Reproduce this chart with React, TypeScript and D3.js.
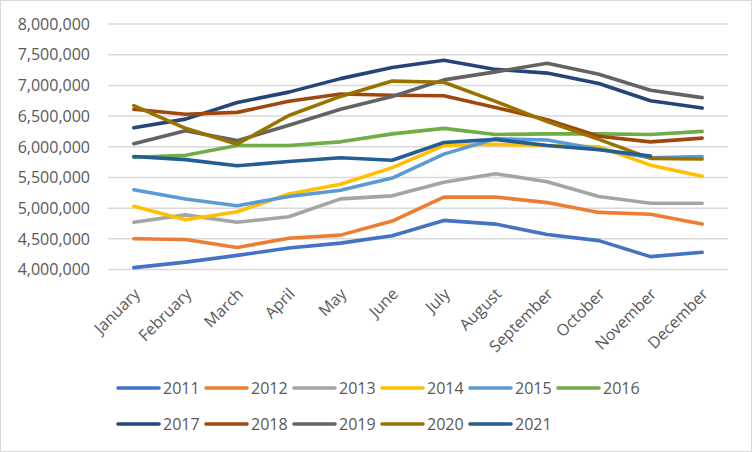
import React from "react";
import * as d3 from "d3";

const months = ["January","February","March","April","May","June","July","August","September","October","November","December"];
const yTicks = [4000000,4500000,5000000,5500000,6000000,6500000,7000000,7500000,8000000];
const years = ["2011","2012","2013","2014","2015","2016","2017","2018","2019","2020","2021"];
const colors = ["#4472C4","#ED7D31","#A5A5A5","#FFC000","#5B9BD5","#70AD47","#264478","#9E480E","#636363","#997300","#255E91"];

const s2011 = [4030000,4120000,4230000,4350000,4430000,4550000,4800000,4740000,4570000,4470000,4210000,4280000];
const s2012 = [4500000,4490000,4360000,4510000,4560000,4790000,5180000,5180000,5090000,4930000,4900000,4740000];
const s2013 = [4770000,4890000,4770000,4860000,5150000,5200000,5420000,5560000,5430000,5190000,5080000,5080000];
const s2014 = [5030000,4810000,4940000,5230000,5390000,5660000,6020000,6040000,6020000,6000000,5700000,5520000];
const s2015 = [5300000,5150000,5040000,5190000,5290000,5490000,5880000,6130000,6110000,5960000,5820000,5840000];
const s2016 = [5830000,5860000,6020000,6020000,6080000,6210000,6300000,6200000,6210000,6210000,6200000,6250000];
const s2017 = [6310000,6450000,6720000,6890000,7110000,7290000,7410000,7260000,7200000,7030000,6750000,6630000];
const s2018 = [6610000,6530000,6560000,6740000,6860000,6840000,6830000,6640000,6440000,6170000,6080000,6140000];
const s2019 = [6050000,6260000,6100000,6350000,6610000,6820000,7090000,7220000,7360000,7180000,6920000,6800000];
const s2020 = [6670000,6300000,6040000,6510000,6820000,7070000,7050000,6740000,6410000,6120000,5810000,5800000];
const s2021 = [5840000,5790000,5690000,5760000,5820000,5780000,6070000,6120000,6020000,5950000,5850000];

const seriesValues = [s2011,s2012,s2013,s2014,s2015,s2016,s2017,s2018,s2019,s2020,s2021];

const W = 752, H = 452;
const FONT = "'Open Sans', sans-serif";
const TXT = "#595959";

export default function App() {
  const x = d3.scalePoint<string>().domain(months).range([108, 728]).padding(0.5);
  const y = d3.scaleLinear().domain([4000000, 8000000]).range([269.5, 24]);
  const fmt = d3.format(",");
  const line = d3.line<number>()
    .x((_, i) => x(months[i]) as number)
    .y((d) => y(d));

  return (
    <svg width={W} height={H} style={{ position: "absolute", left: 0, top: 0, background: "#fff" }}>
      <rect x={0.5} y={0.5} width={W - 1} height={H - 1} fill="#fff" stroke="#d9d9d9" strokeWidth={1} />
      {yTicks.map((t) => (
        <g key={t}>
          <line x1={108} x2={728} y1={y(t)} y2={y(t)} stroke="#d9d9d9" strokeWidth={1.5} />
          <text x={90} y={y(t)} dy="0.36em" textAnchor="end" fontFamily={FONT} fontSize={16} fill={TXT}>
            {fmt(t)}
          </text>
        </g>
      ))}
      {months.map((m) => {
        const px = (x(m) as number) + 7;
        const py = 295;
        return (
          <text key={m} x={px} y={py} transform={`rotate(-45 ${px} ${py})`} textAnchor="end"
            fontFamily={FONT} fontSize={16} fill={TXT}>
            {m}
          </text>
        );
      })}
      {seriesValues.map((vals, i) => (
        <path key={years[i]} d={line(vals) || ""} fill="none" stroke={colors[i]} strokeWidth={3.6}
          strokeLinecap="round" strokeLinejoin="round" />
      ))}
      {years.map((yr, i) => {
        const col = i % 6;
        const row = Math.floor(i / 6);
        const lx = 116 + col * 88;
        const ly = row === 0 ? 388 : 424;
        return (
          <g key={yr}>
            <line x1={lx + 2} x2={lx + 43} y1={ly} y2={ly} stroke={colors[i]} strokeWidth={3.6} strokeLinecap="round" />
            <text x={lx + 47} y={ly} dy="0.36em" fontFamily={FONT} fontSize={16} fill={TXT}>{yr}</text>
          </g>
        );
      })}
    </svg>
  );
}
